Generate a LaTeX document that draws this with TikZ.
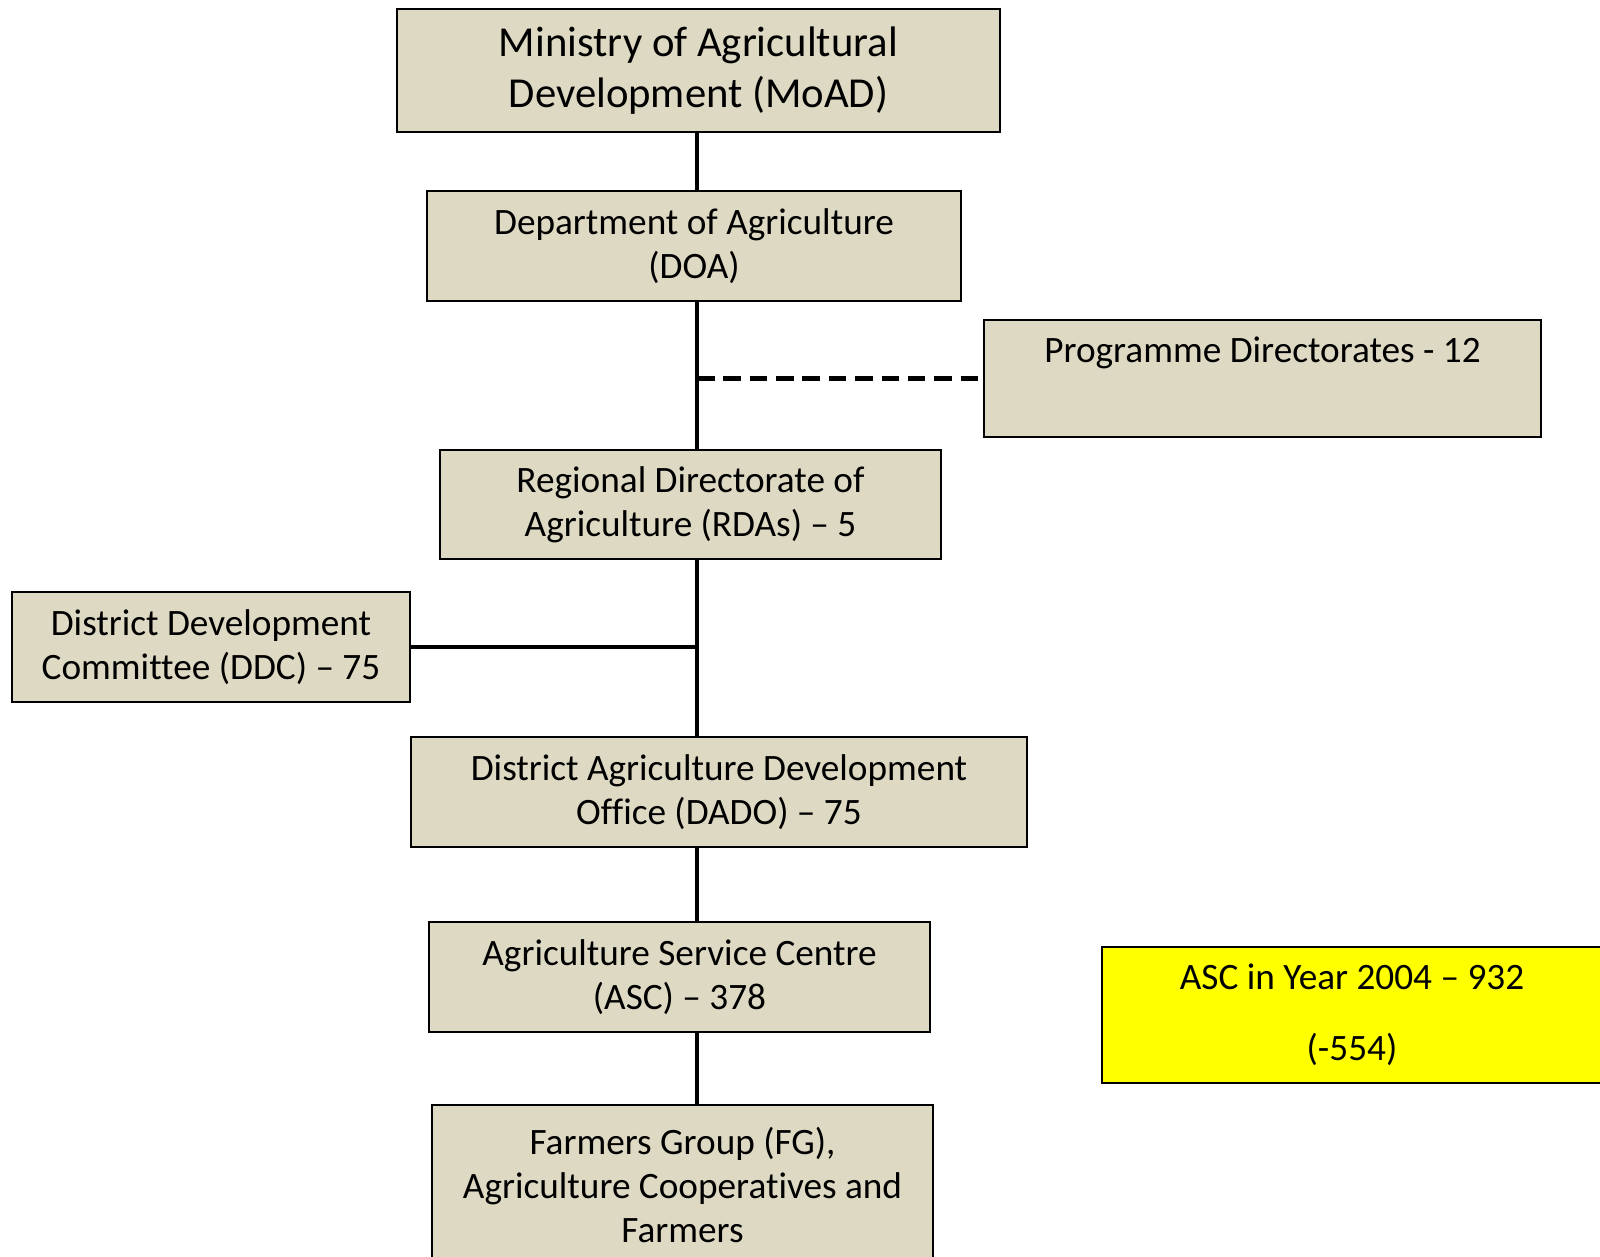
\documentclass[tikz,border=0pt]{standalone}
\usepackage{fontspec}
\setmainfont[Ligatures=NoCommon]{Carlito}
\usetikzlibrary{calc}
\definecolor{tanbg}{RGB}{221,217,195}
\definecolor{notefill}{RGB}{255,255,0}
\tikzset{
  unit/.style={draw=black, line width=1.3pt, fill=#1, align=center, inner sep=0pt,
    font=\fontsize{21.2}{25.2}\selectfont},
  unit/.default=tanbg,
  link/.style={line width=2.5pt, draw=black},
  dashlink/.style={line width=2.5pt, draw=black, dash pattern=on 10pt off 5pt}
}

\begin{document}
\begin{tikzpicture}[x=1cm,y=1cm]
  \useasboundingbox (0,0) rectangle (32,25.14);
  \coordinate (spine) at (13.94,0);

  % Main chain of units.
  \node[unit, minimum width=120.6mm, minimum height=24.6mm, font=\fontsize{24.3}{29.3}\selectfont] (moad) at (13.97,23.73) {Ministry of Agricultural\\Development (MoAD)};
  \node[unit, minimum width=106.8mm, minimum height=22mm] (doa) at (13.88,20.22) {Department of Agriculture\\(DOA)};
  \node[unit, minimum width=100.2mm, minimum height=21.8mm] (rda) at (13.81,15.05) {Regional Directorate of\\Agriculture (RDAs) -- 5};
  \node[unit, minimum width=123.2mm, minimum height=22mm] (dado) at (14.38,9.30) {District Agriculture Development\\Office (DADO) -- 75};
  \node[unit, minimum width=100.2mm, minimum height=22mm] (asc) at (13.59,5.60) {Agriculture Service Centre\\(ASC) -- 378};
  \node[unit, minimum width=100.2mm, minimum height=32mm] (fg) at (13.65,1.44) {Farmers Group (FG),\\Agriculture Cooperatives and\\Farmers};

  % Side units.
  \node[unit, minimum width=111.4mm, minimum height=23.4mm] (prog) at (25.25,17.57) {Programme Directorates - 12\\\strut};
  \node[unit, minimum width=79.6mm, minimum height=22mm] (ddc) at (4.22,12.20) {District Development\\Committee (DDC) -- 75};
  \node[unit=notefill, minimum width=100mm, minimum height=27.2mm] (ascnote) at (27.04,4.84) {ASC in Year 2004 -- 932\\[5.4mm](-554)};

  % Connectors.
  \draw[link] (spine |- moad.south) -- (spine |- doa.north);
  \draw[link] (spine |- doa.south) -- (spine |- rda.north);
  \draw[link] (spine |- rda.south) -- (spine |- dado.north);
  \draw[link] (spine |- dado.south) -- (spine |- asc.north);
  \draw[link] (spine |- asc.south) -- (spine |- fg.north);
  \draw[dashlink] (spine |- prog.west) -- (prog.west);
  \draw[link] (ddc.east) -- (ddc.east -| spine);
\end{tikzpicture}
\end{document}
